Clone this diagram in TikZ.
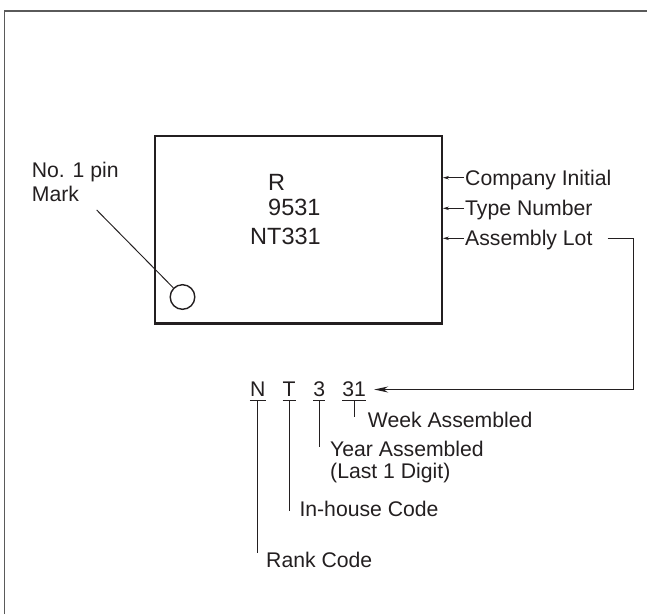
\documentclass[tikz,border=0pt]{standalone}
\usepackage{fontspec}
\setmainfont{Liberation Sans}
\usetikzlibrary{arrows.meta,calc}
\definecolor{ink}{HTML}{231F20}
\definecolor{framegray}{HTML}{5A5A5A}
\begin{document}
\begin{tikzpicture}[x=1pt,y=-1pt,
  every node/.style={inner sep=0pt, text=ink, font=\fontsize{21.2}{24}\selectfont},
  txt/.style={anchor=base west},
  chiptxt/.style={anchor=base west, font=\fontsize{23.5}{26}\selectfont},
  chr/.style={anchor=base},
  frame/.style={draw=framegray, line width=1.3pt},
  chip/.style={draw=ink, line width=2.2pt, minimum width=286.8pt, minimum height=187.8pt},
  pinmark/.style={draw=ink, circle, line width=1.4pt, minimum size=24.6pt},
  lead/.style={draw=ink, line width=0.95pt},
  ptr/.style={lead, -{Stealth[length=6pt,width=3.5pt]}},
  bigptr/.style={lead, -{Stealth[length=14pt,width=6pt]}}]
\useasboundingbox (0,0) rectangle (647,614);
% outer frame (top and left only)
\draw[frame] (4.5,614) -- (4.5,11) -- (647,11);

% chip body
\node[chip] (box) at (298.4,229.6) {};
\node[pinmark] (pin) at (182.5,297) {};
\node[chiptxt] (r) at (268,190) {R};
\node[chiptxt] (num) at (268,215) {9531};
\node[chiptxt] (lot) at (250,244) {NT331};

% pin label
\node[txt] (pinA) at (31.7,177.3) {No. 1 pin};
\node[txt] (pinB) at (31.7,201.7) {Mark};
\coordinate (pinS) at ([xshift=65pt,yshift=-8.3pt]pinB.base west);
\draw[lead] (pinS) -- (pin.north west);

% right labels
\node[txt] (ci) at (465,185.7) {Company Initial};
\node[txt] (tn) at (465,215.7) {Type Number};
\node[txt] (al) at (465,245.7) {Assembly Lot};
\coordinate (ciA) at ([xshift=-1pt,yshift=8pt]ci.base west);
\coordinate (tnA) at ([xshift=-1pt,yshift=7.4pt]tn.base west);
\coordinate (alA) at ([xshift=-1pt,yshift=7.4pt]al.base west);
\draw[ptr] (ciA) -- (ciA -| box.east);
\draw[ptr] (tnA) -- (tnA -| box.east);
\draw[ptr] (alA) -- (alA -| box.east);

% lot breakdown
\node[chr] (cN) at (257.8,396.7) {N};
\node[chr] (cT) at (289.2,396.7) {T};
\node[chr] (c3) at (319.2,396.7) {3};
\node[chr] (c31) at (354.2,396.7) {31};

\coordinate (alE) at ([xshift=15pt,yshift=7.4pt]al.base east);
\coordinate (corner) at (633,389.5);
\coordinate (tip) at ($(c31.east |- corner)+(8,0)$);
\draw[bigptr] (alE) -| (corner) -- (tip);

\foreach \c in {cN,cT,c3,c31}{
  \draw[lead] ([yshift=-4pt]\c.base west) -- ([yshift=-4pt]\c.base east);
}

\node[txt] (week) at (367.7,427.3) {Week Assembled};
\node[txt] (year) at (330,456) {Year Assembled};
\node[txt] (digit) at (330,478.7) {(Last 1 Digit)};
\node[txt] (inh) at (299.3,516.7) {In-house Code};
\node[txt] (rank) at (266,567.3) {Rank Code};

\coordinate (weekT) at ([yshift=10pt]week.base west);
\coordinate (yearT) at ([yshift=9.3pt]year.base west);
\coordinate (inhT) at ([yshift=6pt]inh.base west);
\coordinate (rankT) at ([yshift=14pt]rank.base west);

\draw[lead] ([yshift=-4pt]c31.base) -- (c31.base |- weekT);
\draw[lead] ([yshift=-4pt]c3.base) -- (c3.base |- yearT);
\draw[lead] ([yshift=-4pt]cT.base) -- (cT.base |- inhT);
\draw[lead] ([yshift=-4pt]cN.base) -- (cN.base |- rankT);
\end{tikzpicture}
\end{document}
